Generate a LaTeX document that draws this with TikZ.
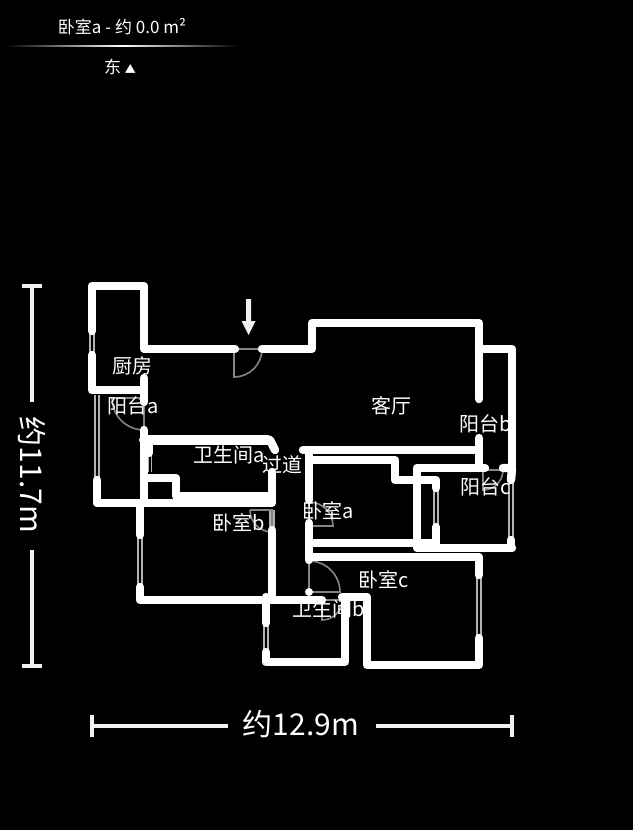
\documentclass[tikz,border=0pt]{standalone}
\usepackage{fontspec}
\setmainfont{Noto Sans CJK SC}
\begin{document}
\begin{tikzpicture}[x=1pt,y=-1pt,
  wall/.style={draw=white,line width=8.4pt,line cap=round,line join=round},
  winline/.style={draw=white!70!black,line width=1.8pt},
  doorline/.style={draw=white!52!black,line width=1.6pt},
  dimline/.style={draw=white!94!black,line width=3.3pt},
  room/.style={text=white,font=\fontsize{20pt}{22pt}\selectfont,inner sep=0pt},
  dimtext/.style={text=white,font=\fontsize{30pt}{32pt}\selectfont,inner sep=0pt},
  head/.style={text=white,font=\fontsize{17pt}{19pt}\selectfont,inner sep=0pt}]
\path[use as bounding box,fill=black] (0,0) rectangle (633,830);
% header
\node[head] (title) at (122,27) {卧室a - 约 0.0 m²};
\node[head] (north) at (120,67) {东 {\fontsize{11pt}{12pt}\selectfont ▲}};
\shade[left color=black,right color=white] (5,45.5) rectangle (122,46.7);
\shade[left color=white,right color=black] (122,45.5) rectangle (238,46.7);
% windows
\foreach \xa/\ya/\xb/\yb in {92/331/92/355,97/395/97/480,140/535/140/587,
  272/510/272/530,266/623/266/652,436/488/436/527,511/480/511/540,479/575/479/638}{
  \draw[winline] (\xa-2.2,\ya) -- (\xb-2.2,\yb);
  \draw[winline] (\xa+2.2,\ya) -- (\xb+2.2,\yb);
}
\draw[winline] (148.5,455) -- (148.5,472);
\draw[winline] (151.5,455) -- (151.5,472);
% doors
\draw[doorline] (262,349) -- (234,349) -- (234,377) arc[start angle=90,end angle=0,radius=28];
\draw[doorline] (112,398) -- (144,398) -- (144,430) arc[start angle=90,end angle=180,radius=32];
\draw[doorline] (309,502) -- (309,526) -- (333,526) arc[start angle=0,end angle=-90,radius=24];
\draw[doorline] (250,510) -- (272,510) -- (272,532) arc[start angle=90,end angle=180,radius=22];
\draw[doorline] (309,560) -- (309,592) -- (340,592) arc[start angle=0,end angle=-90,radius=31];
\draw[doorline] (342,600) -- (322,600) -- (322,620) arc[start angle=90,end angle=0,radius=20];
\draw[doorline] (503,470) -- (483,470) -- (483,490) arc[start angle=90,end angle=0,radius=20];
% walls
\draw[wall] (92,331) -- (92,286) -- (144,286) -- (144,349) -- (235,349);
\draw[wall] (92,355) -- (92,390) -- (144,390);
\draw[wall] (144,378) -- (144,402);
\draw[wall] (262,349) -- (312,349) -- (312,323) -- (479,323) -- (479,399);
\draw[wall] (479,349) -- (512,349) -- (512,467);
\draw[wall] (479,438) -- (479,467);
\draw[wall] (303,450) -- (479,450);
\draw[wall] (309,450) -- (309,500);
\draw[wall] (309,523) -- (309,560);
\draw[wall] (309,460) -- (395,460) -- (395,480) -- (436,480) -- (436,488);
\draw[wall] (436,527) -- (436,545);
\draw[wall] (309,543) -- (436,543);
\draw[wall] (485,468) -- (417,468) -- (417,548) -- (512,548);
\draw[wall] (503,468) -- (512,468) -- (511,480);
\draw[wall] (511,540) -- (511,548);
\draw[wall] (309,557) -- (479,557) -- (479,575);
\draw[wall] (479,638) -- (479,665) -- (367,665) -- (367,597) -- (342,597);
\draw[wall] (345,597) -- (345,662) -- (266,662) -- (266,652);
\draw[wall] (266,623) -- (266,597);
\draw[wall] (140,587) -- (140,600) -- (322,600);
\draw[wall] (140,535) -- (140,503);
\draw[wall] (272,530) -- (272,600);
\draw[wall] (97,480) -- (97,503) -- (272,503) -- (272,472);
\draw[wall] (144,430) -- (144,503);
\draw[wall,line width=10pt] (144,440) -- (268,440);
\draw[wall] (270,440) -- (275,450);
\draw[wall] (149,445) -- (149,453);
\draw[wall] (144,478) -- (176,478) -- (176,496) -- (272,496);
\fill[white] (309,592) circle (4);
% entrance arrow
\fill[white!94!black] (246,299) -- (251,299) -- (251,321) -- (255.5,321) -- (248.5,335) -- (241.5,321) -- (246,321) -- cycle;
% rooms
\node[room] (kitchen) at (132,366) {厨房};
\node[room] (balconya) at (133,406) {阳台a};
\node[room] (batha) at (229,455) {卫生间a};
\node[room] (hall) at (282,465) {过道};
\node[room] (living) at (391,406) {客厅};
\node[room] (balconyb) at (486,424) {阳台b};
\node[room] (balconyc) at (486,487) {阳台c};
\node[room] (bedrooma) at (328,511) {卧室a};
\node[room] (bedroomb) at (239,523) {卧室b};
\node[room] (bedroomc) at (384,580) {卧室c};
\node[room] (bathb) at (329,609) {卫生间b};
% dimensions
\node[dimtext,rotate=-90] (dimv) at (32,475) {约11.7m};
\node[dimtext] (dimh) at (301,724) {约12.9m};
\draw[dimline] (22,286) -- (42,286);
\draw[dimline] (22,666) -- (42,666);
\coordinate (vt) at (32,286); \coordinate (vb) at (32,666);
\draw[dimline] (vt) -- (32,402);
\draw[dimline] (32,550) -- (vb);
\draw[dimline] (92,715) -- (92,737);
\draw[dimline] (512,715) -- (512,737);
\coordinate (hl) at (92,726); \coordinate (hr) at (512,726);
\draw[dimline] (hl) -- (228,726);
\draw[dimline] (376,726) -- (hr);
\end{tikzpicture}
\end{document}
